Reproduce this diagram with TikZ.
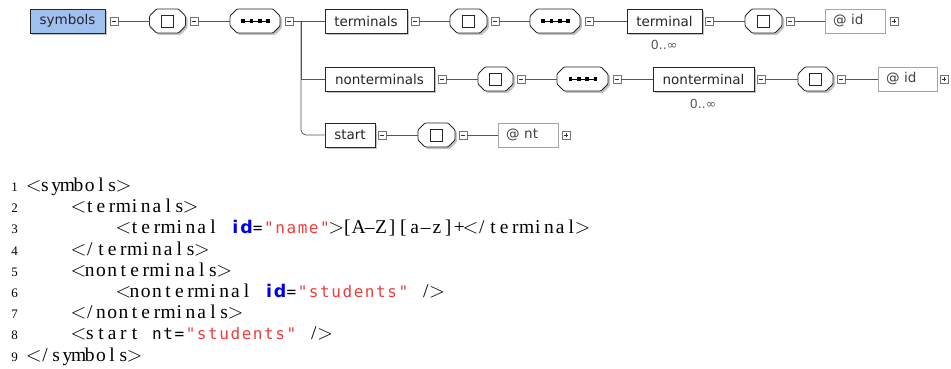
\documentclass[tikz,border=0pt]{standalone}
\usepackage{fontspec}
\setmainfont{Liberation Serif}
\newfontfamily\diagf{DejaVu Sans}
\newfontfamily\monof{DejaVu Sans Mono}
\usetikzlibrary{shadows}
\definecolor{elblue}{RGB}{160,192,240}
\definecolor{strred}{RGB}{240,60,60}
\definecolor{kwblue}{RGB}{0,0,230}
\definecolor{attrgray}{RGB}{165,165,165}
\definecolor{linegray}{RGB}{85,85,85}
\newlength\cw \setlength\cw{11.2pt}
\def\sprEnd{sprEndMarker}
\def\spr#1{\sprI#1\sprEnd}
\def\sprI#1{\ifx#1\sprEnd\else\makebox[\cw][c]{#1}\expandafter\sprI\fi}
\def\LT{$<$}
\def\GT{$>$}
\newcommand\strs[1]{{\color{strred}\monof\fontsize{16}{21}\selectfont\spr{#1}}}
\newcommand\kws[1]{{\color{kwblue}\diagf\bfseries\fontsize{17.5}{21}\selectfont\spr{#1}}}
\newcommand\mons[1]{{\monof\fontsize{16}{21}\selectfont\spr{#1}}}
\newcommand\octpath[2]{% node, shift
  ([shift={#2},yshift=5pt]#1.west) -- ([shift={#2},xshift=7pt]#1.north west) -- ([shift={#2},xshift=-7pt]#1.north east)
  -- ([shift={#2},yshift=5pt]#1.east) -- ([shift={#2},yshift=-5pt]#1.east) -- ([shift={#2},xshift=-7pt]#1.south east)
  -- ([shift={#2},xshift=7pt]#1.south west) -- ([shift={#2},yshift=-5pt]#1.west) -- cycle}
\tikzset{
  shad/.style={drop shadow={shadow xshift=2pt, shadow yshift=-2pt, fill=black!40, opacity=0.6}},
  elem/.style={shad, draw=black!85, fill=white, line width=0.8pt, minimum height=24pt, inner sep=0pt,
    font=\diagf\fontsize{13.5}{16}\selectfont, text=black!85},
  attr/.style={draw=attrgray, fill=white, line width=0.8pt, minimum height=24pt, inner sep=0pt,
    font=\diagf\fontsize{13.5}{16}\selectfont, text=black!75},
  sqbox/.style={draw=black!55, fill=white, minimum size=8pt, inner sep=0pt, line width=0.6pt},
  minusbox/.style={sqbox, path picture={\draw[line width=0.7pt, black!80]
     ([xshift=-2.3pt]path picture bounding box.center) -- ([xshift=2.3pt]path picture bounding box.center);}},
  plusbox/.style={sqbox, path picture={\draw[line width=0.7pt, black!80]
     ([xshift=-2.3pt]path picture bounding box.center) -- ([xshift=2.3pt]path picture bounding box.center)
     ([yshift=-2.3pt]path picture bounding box.center) -- ([yshift=2.3pt]path picture bounding box.center);}},
  octo/.style={minimum height=24pt, inner sep=0pt, outer sep=0pt},
  seqbox/.style={octo, minimum width=36pt},
  dotbox/.style={octo, minimum width=50pt},
  octline/.style={draw=black!85, fill=white, line width=0.8pt, rounded corners=1pt},
  octshadow/.style={fill=black!40, opacity=0.6, rounded corners=1pt},
  conn/.style={draw=linegray, line width=0.8pt},
  card/.style={font=\diagf\fontsize{12.5}{14}\selectfont, text=black!65, inner sep=0pt},
  codeline/.style={inner sep=0pt, anchor=base west, font=\fontsize{19.5}{21}\selectfont},
  lnum/.style={inner sep=0pt, anchor=base east, font=\fontsize{13}{14}\selectfont},
}
\begin{document}
\begin{tikzpicture}[x=1pt,y=-1pt]
\useasboundingbox (0,0) rectangle (951,369);
% row 1
\node[elem, fill=elblue, minimum width=75pt] (symbols) at (67.5,21) {symbols};
\node[minusbox] (m1) at (114,21) {};
\node[seqbox] (s1) at (167.5,21) {};
\node[minusbox] (m2) at (194,21) {};
\node[dotbox] (d1) at (255,21) {};
\node[minusbox] (m3) at (289,21) {};
\coordinate (J) at (301,21);
\node[elem, minimum width=82pt] (terminals) at (366,21) {terminals};
\node[minusbox] (m4) at (415,21) {};
\node[seqbox, minimum width=37pt] (s2) at (468.5,21) {};
\node[minusbox] (m5) at (495,21) {};
\node[dotbox] (d2) at (555,21) {};
\node[minusbox] (m6) at (589,21) {};
\node[elem, minimum width=75pt] (terminal) at (664.5,21) {terminal};
\node[card] (c1) at (664,45) {0..∞};
\node[minusbox] (m7) at (709,21) {};
\node[seqbox, minimum width=37pt] (s3) at (763.5,21) {};
\node[minusbox] (m8) at (790,21) {};
\node[attr, minimum width=60pt] (a1) at (855,21) {\makebox[44pt][l]{@\hspace{0.35em}id}};
\node[plusbox] (p1) at (894,21) {};
% row 2
\node[elem, minimum width=109pt] (nonterminals) at (379.5,79) {nonterminals};
\node[minusbox] (m9) at (442,79) {};
\node[seqbox, minimum width=35pt] (s4) at (495.5,79) {};
\node[minusbox] (m10) at (521,79) {};
\node[dotbox, minimum width=51pt] (d3) at (582.5,79) {};
\node[minusbox] (m11) at (617,79) {};
\node[elem, minimum width=101pt] (nonterminal) at (703.5,79) {nonterminal};
\node[card] (c2) at (703,104) {0..∞};
\node[minusbox] (m12) at (761,79) {};
\node[seqbox, minimum width=35pt] (s5) at (815.5,79) {};
\node[minusbox] (m13) at (841,79) {};
\node[attr, minimum width=59pt] (a2) at (907.5,79) {\makebox[43pt][l]{@\hspace{0.35em}id}};
\node[plusbox] (p2) at (944,79) {};
% row 3
\node[elem, minimum width=50pt] (start) at (350,135) {start};
\node[minusbox] (m14) at (382,135) {};
\node[seqbox, minimum width=37pt] (s6) at (436.5,135) {};
\node[minusbox] (m15) at (463,135) {};
\node[attr, minimum width=60pt] (a3) at (528,135) {\makebox[44pt][l]{@\hspace{0.35em}nt}};
\node[plusbox] (p3) at (566,135) {};
% compositor shapes
\foreach \n in {s1,s2,s3,s4,s5,s6,d1,d2,d3}{
  \path[octshadow] \octpath{\n}{(2pt,-2pt)};
  \path[octline] \octpath{\n}{(0,0)};
}
\foreach \n in {s1,s2,s3,s4,s5,s6}{
  \draw[line width=0.8pt, black!85] ([shift={(-6pt,-6pt)}]\n.center) rectangle ++(12pt,12pt);
}
\foreach \n in {d1,d2,d3}{
  \draw[line width=0.7pt] ([xshift=-12pt]\n.center) -- ([xshift=13pt]\n.center);
  \foreach \dx in {-12,-3.7,4.7,13}{
    \fill ([shift={(\dx pt-1.8pt,-1.8pt)}]\n.center) rectangle ++(3.6pt,3.6pt);
  }
}
% connectors
\draw[conn] (m1.east) -- (s1.west);
\draw[conn] (m2.east) -- (d1.west);
\draw[conn] (m3.east) -- (terminals.west);
\draw[conn] (m4.east) -- (s2.west);
\draw[conn] (m5.east) -- (d2.west);
\draw[conn] (m6.east) -- (terminal.west);
\draw[conn] (m7.east) -- (s3.west);
\draw[conn] (m8.east) -- (a1.west);
\draw[conn] (J) |- (nonterminals.west);
\draw[conn, rounded corners=5pt] (J) |- (start.west);
\draw[conn] (m9.east) -- (s4.west);
\draw[conn] (m10.east) -- (d3.west);
\draw[conn] (m11.east) -- (nonterminal.west);
\draw[conn] (m12.east) -- (s5.west);
\draw[conn] (m13.east) -- (a2.west);
\draw[conn] (m14.east) -- (s6.west);
\draw[conn] (m15.east) -- (a3.west);
% code listing
\node[lnum] (n1) at (18,191.5) {1};
\node[lnum] (n2) at (18,212.7) {2};
\node[lnum] (n3) at (18,233.9) {3};
\node[lnum] (n4) at (18,255.1) {4};
\node[lnum] (n5) at (18,276.3) {5};
\node[lnum] (n6) at (18,297.5) {6};
\node[lnum] (n7) at (18,318.7) {7};
\node[lnum] (n8) at (18,339.9) {8};
\node[lnum] (n9) at (18,361.1) {9};
\node[codeline] (l1) at (28,191.5) {\spr{\LT symbols\GT}};
\node[codeline] (l2) at (72.8,212.7) {\spr{\LT terminals\GT}};
\node[codeline] (l3) at (117.6,233.9) {\spr{\LT terminal~}\kws{id}\mons{=}\strs{"name"}\spr{\GT[A\textendash Z][a\textendash z]+\LT/terminal\GT}};
\node[codeline] (l4) at (72.8,255.1) {\spr{\LT/terminals\GT}};
\node[codeline] (l5) at (72.8,276.3) {\spr{\LT nonterminals\GT}};
\node[codeline] (l6) at (117.6,297.5) {\spr{\LT nonterminal~}\kws{id}\mons{=}\strs{"students"}\spr{~/\GT}};
\node[codeline] (l7) at (72.8,318.7) {\spr{\LT/nonterminals\GT}};
\node[codeline] (l8) at (72.8,339.9) {\spr{\LT start~}\mons{nt=}\strs{"students"}\spr{~/\GT}};
\node[codeline] (l9) at (28,361.1) {\spr{\LT/symbols\GT}};
\end{tikzpicture}
\end{document}
